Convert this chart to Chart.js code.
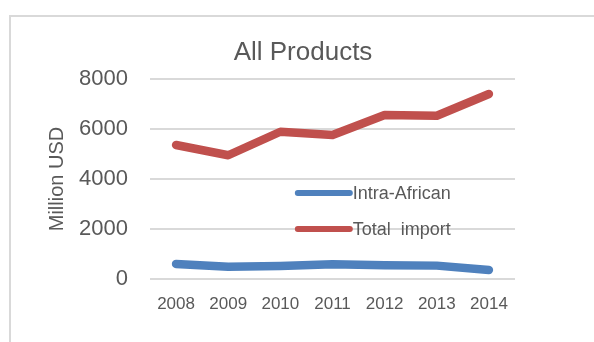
<!DOCTYPE html>
<html lang="en">
<head>
    <meta charset="UTF-8">
    <title>All Products</title>
    <style>
        body { margin: 0; background: #fff; }
        .frame {
            position: absolute;
            left: 9px; top: 15px;
            width: 620px; height: 360px;
            border: 2px solid #d9d9d9;
        }
        #chart { position: absolute; left: 0; top: 0; }
    </style>
</head>
<body>
    <div class="frame"></div>
    <canvas id="chart" width="594" height="342"></canvas>

    <script src="https://cdn.jsdelivr.net/npm/chart.js"></script>
    <script>
        const years = ['2008', '2009', '2010', '2011', '2012', '2013', '2014'];
        const intraAfrican = [600, 490, 520, 590, 550, 535, 360];
        const totalImport = [5360, 4950, 5890, 5760, 6560, 6530, 7400];
        const yTicks = [0, 2000, 4000, 6000, 8000];

        const textColor = '#595959';
        const font = 'Liberation Sans, Arial, sans-serif';

        // title sits a bit right of the plot centre in the original, so draw it by hand
        const chartTitle = {
            id: 'chartTitle',
            afterDraw(chart) {
                const ctx = chart.ctx;
                ctx.save();
                ctx.fillStyle = textColor;
                ctx.font = '26px ' + font;
                ctx.textAlign = 'center';
                ctx.textBaseline = 'alphabetic';
                ctx.fillText('All Products', 303, 60);
                ctx.restore();
            }
        };

        // legend drawn inside the plot, like the Excel original
        const insideLegend = {
            id: 'insideLegend',
            afterDatasetsDraw(chart) {
                const ctx = chart.ctx;
                const area = chart.chartArea;
                const x0 = area.left + (area.right - area.left) * 0.405;
                const rows = [0.57, 0.75];
                ctx.save();
                chart.data.datasets.forEach((ds, i) => {
                    const y = area.top + (area.bottom - area.top) * rows[i];
                    ctx.strokeStyle = ds.borderColor;
                    ctx.lineWidth = 6;
                    ctx.lineCap = 'round';
                    ctx.beginPath();
                    ctx.moveTo(x0, y);
                    ctx.lineTo(x0 + 52, y);
                    ctx.stroke();
                    ctx.fillStyle = textColor;
                    ctx.font = '18px ' + font;
                    ctx.textBaseline = 'middle';
                    ctx.fillText(ds.label, x0 + 55, y + 1);
                });
                ctx.restore();
            }
        };

        new Chart(document.getElementById('chart'), {
            type: 'line',
            data: {
                labels: years,
                datasets: [
                    { label: 'Intra-African', data: intraAfrican, borderColor: '#4f81bd' },
                    { label: 'Total  import', data: totalImport, borderColor: '#c0504d' }
                ]
            },
            options: {
                responsive: false,
                animation: false,
                layout: { padding: { left: 40, right: 79, top: 79, bottom: 20 } },
                elements: {
                    line: { borderWidth: 8.5, borderCapStyle: 'round', borderJoinStyle: 'round', tension: 0 },
                    point: { radius: 0 }
                },
                plugins: {
                    legend: { display: false },
                    tooltip: { enabled: false },
                    title: { display: false }
                },
                scales: {
                    x: {
                        offset: true,
                        grid: { display: false },
                        border: { display: false },
                        ticks: { color: textColor, font: { family: font, size: 17 }, padding: 7, maxRotation: 0 },
                        afterFit(scale) { scale.height = 43; }
                    },
                    y: {
                        min: 0,
                        max: 8000,
                        afterBuildTicks(scale) { scale.ticks = yTicks.map(v => ({ value: v })); },
                        grid: { color: '#d9d9d9', lineWidth: 2, drawTicks: false },
                        border: { display: false },
                        ticks: {
                            color: textColor,
                            font: { family: font, size: 22 },
                            padding: 22,
                            callback: v => String(v)
                        },
                        title: {
                            display: true,
                            text: 'Million USD',
                            color: textColor,
                            font: { family: font, size: 20 },
                            padding: { top: 5, bottom: 0 }
                        },
                        afterFit(scale) { scale.width = 110; }
                    }
                }
            },
            plugins: [insideLegend, chartTitle]
        });
    </script>
</body>
</html>
